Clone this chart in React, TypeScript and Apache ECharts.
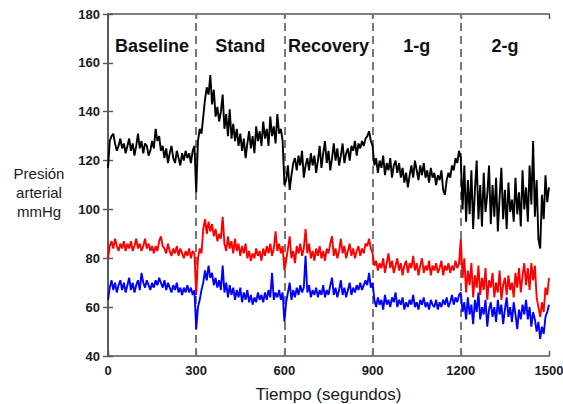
import React, { useEffect, useRef } from "react";
import * as echarts from "echarts";

// Sampling step (seconds) of the hand-read traces; each segment spans 300 s.
const STEP = 6;
const segmentNames = ["Baseline", "Stand", "Recovery", "1-g", "2-g"];
const segmentBounds = [0, 300, 600, 900, 1200, 1500];

// Black: systolic-like trace (mmHg)
const blackBaseline = [117,128,130,131,127,124,126,129,125,127, 123,126,129,124,127,122,126,131,125,128, 123,127,126,122,124,128,125,133,128,130, 124,126,121,125,119,123,126,121,119,124, 121,118,123,120,124,121,123,119,124,126];
const blackStand = [107,128,133,131,138,145,150,147,155,143, 149,138,142,136,140,147,133,139,130,141, 129,135,128,133,126,131,124,129,121,127, 132,125,130,123,134,128,132,126,136,129, 133,126,138,130,134,127,139,131,133,128];
const blackRecovery = [110,112,118,108,114,119,121,116,122,118, 124,113,118,121,116,123,118,122,115,120, 126,117,123,128,119,124,116,121,127,120, 125,118,122,127,119,123,125,120,126,124, 128,122,127,125,128,126,129,130,132,128];
const black1g = [126,118,121,115,120,117,122,114,119,116, 121,113,118,120,115,119,113,117,111,115, 109,114,118,113,120,116,112,118,114,119, 113,116,111,117,113,115,110,114,112,116, 108,106,112,115,113,118,116,121,119,124];
const black2g = [121,100,118,95,112,98,116,92,108,120, 96,110,93,115,99,106,118,94,110,97, 113,91,105,117,96,108,92,111,99,104, 95,113,98,107,93,116,100,109,95,118, 102,128,97,112,88,84,106,96,114,103, 109];

// Red trace (mmHg)
const redBaseline = [80,85,87,84,88,85,83,86,84,87, 83,86,84,87,83,85,88,84,86,83, 85,88,84,86,83,85,82,85,83,87, 89,85,84,82,86,83,81,84,82,85, 81,84,82,80,83,81,84,80,83,82];
const redStand = [65,80,84,82,92,96,90,95,91,94, 89,92,87,90,88,97,86,83,89,84, 87,82,88,83,86,81,85,82,86,80, 83,79,82,80,84,81,83,79,84,81, 85,82,86,81,84,91,83,86,82,85];
const redRecovery = [75,79,84,89,80,83,78,85,82,86, 81,84,92,82,86,80,83,79,84,81, 85,80,83,79,84,82,86,89,81,84, 80,83,88,82,85,80,83,86,81,84, 80,83,85,81,84,82,86,85,88,84];
const red1g = [82,77,79,75,78,76,80,74,78,82, 76,79,74,77,80,75,78,73,77,79, 74,78,76,81,75,78,73,77,80,74, 77,75,79,73,77,75,78,74,76,79, 73,77,75,78,74,77,75,79,76,78];
const red2g = [88,72,80,66,75,69,78,64,73,68, 77,65,72,67,76,63,71,68,74,64, 70,66,75,63,69,72,65,73,67,70, 64,74,68,76,66,73,78,69,76,67, 78,71,77,64,60,56,62,58,68,65, 72];

// Blue trace (mmHg)
const blueBaseline = [63,68,71,67,70,66,69,71,67,70, 66,69,72,67,70,66,69,71,67,74, 70,68,71,69,67,70,68,71,69,72, 70,68,71,67,70,68,66,69,67,70, 66,68,65,68,66,69,66,68,65,67];
const blueStand = [51,60,63,67,70,75,71,77,72,74, 69,72,68,71,67,77,66,70,64,69, 65,68,63,67,64,68,62,66,63,67, 62,65,61,64,62,66,63,65,62,66, 63,67,64,74,63,66,64,67,63,66];
const blueRecovery = [54,62,66,70,63,67,64,68,65,69, 66,68,81,66,69,64,67,65,68,64, 67,65,69,64,67,65,69,72,65,68, 64,67,71,65,68,64,67,70,65,68, 66,69,67,70,67,69,71,69,74,68];
const blue1g = [70,63,60,64,61,63,59,65,61,63, 60,64,62,66,60,63,61,64,59,62, 60,63,61,65,60,62,59,63,61,64, 60,62,59,63,61,60,63,59,62,60, 63,61,64,60,62,65,61,64,62,65];
const blue2g = [66,58,62,55,64,57,61,53,63,58, 66,55,60,57,63,52,59,62,56,60, 54,63,57,61,53,59,64,56,60,54, 62,57,51,59,55,61,57,63,55,60, 52,58,55,50,54,47,52,49,56,58, 61];

const blackValues = [...blackBaseline, ...blackStand, ...blackRecovery, ...black1g, ...black2g];
const redValues = [...redBaseline, ...redStand, ...redRecovery, ...red1g, ...red2g];
const blueValues = [...blueBaseline, ...blueStand, ...blueRecovery, ...blue1g, ...blue2g];

const toPairs = (vals: number[]) => vals.map((v, i) => [i * STEP, v]);

const FONT = 'Arial, "Liberation Sans", Helvetica, sans-serif';
const TEXT = "#1a1a1a";
const FRAME = "#555";

export default function App() {
  const ref = useRef<HTMLDivElement>(null);
  useEffect(() => {
    if (!ref.current) return;
    const chart = echarts.init(ref.current, null, { renderer: "svg" });
    const axisLine = { show: true, lineStyle: { color: FRAME, width: 1.6 } };
    const tick = { show: true, inside: true, length: 5, lineStyle: { color: FRAME, width: 1.4 } };
    const sepLines = segmentBounds.slice(1, -1).map((x) => ({ xAxis: x }));
    const areas = segmentNames.map((n, i) => [
      { xAxis: segmentBounds[i], name: n },
      { xAxis: segmentBounds[i + 1] },
    ]);
    const lineSeries = (name: string, vals: number[], color: string, extra: any = {}) => ({
      type: "line",
      name,
      data: toPairs(vals),
      showSymbol: false,
      symbol: "none",
      lineStyle: { color, width: 1.9 },
      itemStyle: { color },
      z: 3,
      ...extra,
    });
    chart.setOption({
      animation: false,
      backgroundColor: "#ffffff",
      textStyle: { fontFamily: FONT },
      grid: {
        left: 108,
        top: 14,
        width: 441,
        height: 342,
        containLabel: false,
        outerBoundsMode: "none",
      },
      xAxis: [
        {
          type: "value",
          min: 0,
          max: 1500,
          interval: 300,
          axisLine,
          axisTick: tick,
          splitLine: { show: false },
          axisLabel: {
            fontFamily: FONT,
            fontSize: 13,
            fontWeight: "bold",
            color: TEXT,
            margin: 8,
            formatter: (v: number) => String(v),
          },
          name: "Tiempo (segundos)",
          nameLocation: "middle",
          nameGap: 30,
          nameTextStyle: { fontFamily: FONT, fontSize: 17, color: TEXT },
        },
        {
          type: "value",
          position: "top",
          min: 0,
          max: 1500,
          interval: 300,
          axisLine,
          axisTick: tick,
          axisLabel: { show: false },
          splitLine: { show: false },
        },
      ],
      yAxis: [
        {
          type: "value",
          min: 40,
          max: 180,
          interval: 20,
          axisLine,
          axisTick: tick,
          splitLine: { show: false },
          axisLabel: {
            fontFamily: FONT,
            fontSize: 13,
            fontWeight: "bold",
            color: TEXT,
            margin: 8,
          },
        },
        {
          type: "value",
          position: "right",
          min: 40,
          max: 180,
          interval: 20,
          axisLine,
          axisTick: tick,
          axisLabel: { show: false },
          splitLine: { show: false },
        },
      ],
      graphic: [
        {
          type: "text",
          x: 39,
          y: 164,
          style: {
            text: "Presión\narterial\nmmHg",
            fontFamily: FONT,
            fontSize: 15,
            lineHeight: 19,
            fill: TEXT,
            textAlign: "center",
            textVerticalAlign: "top",
          },
        },
      ],
      series: [
        lineSeries("Negro", blackValues, "#000000", {
          markLine: {
            silent: true,
            symbol: "none",
            label: { show: false },
            lineStyle: { color: "#777", type: [8, 5], width: 2 },
            data: sepLines,
            z: 2,
          },
          markArea: {
            silent: true,
            itemStyle: { color: "rgba(0,0,0,0)" },
            label: {
              show: true,
              position: "insideTop",
              distance: 23,
              fontFamily: FONT,
              fontSize: 18,
              fontWeight: "bold",
              color: "#111",
            },
            data: areas,
          },
        }),
        lineSeries("Rojo", redValues, "#ff0000"),
        lineSeries("Azul", blueValues, "#0000ff"),
      ],
    });
    return () => chart.dispose();
  }, []);
  return (
    <div
      ref={ref}
      style={{ position: "fixed", left: 0, top: 0, width: 563, height: 404, background: "#fff" }}
    />
  );
}
